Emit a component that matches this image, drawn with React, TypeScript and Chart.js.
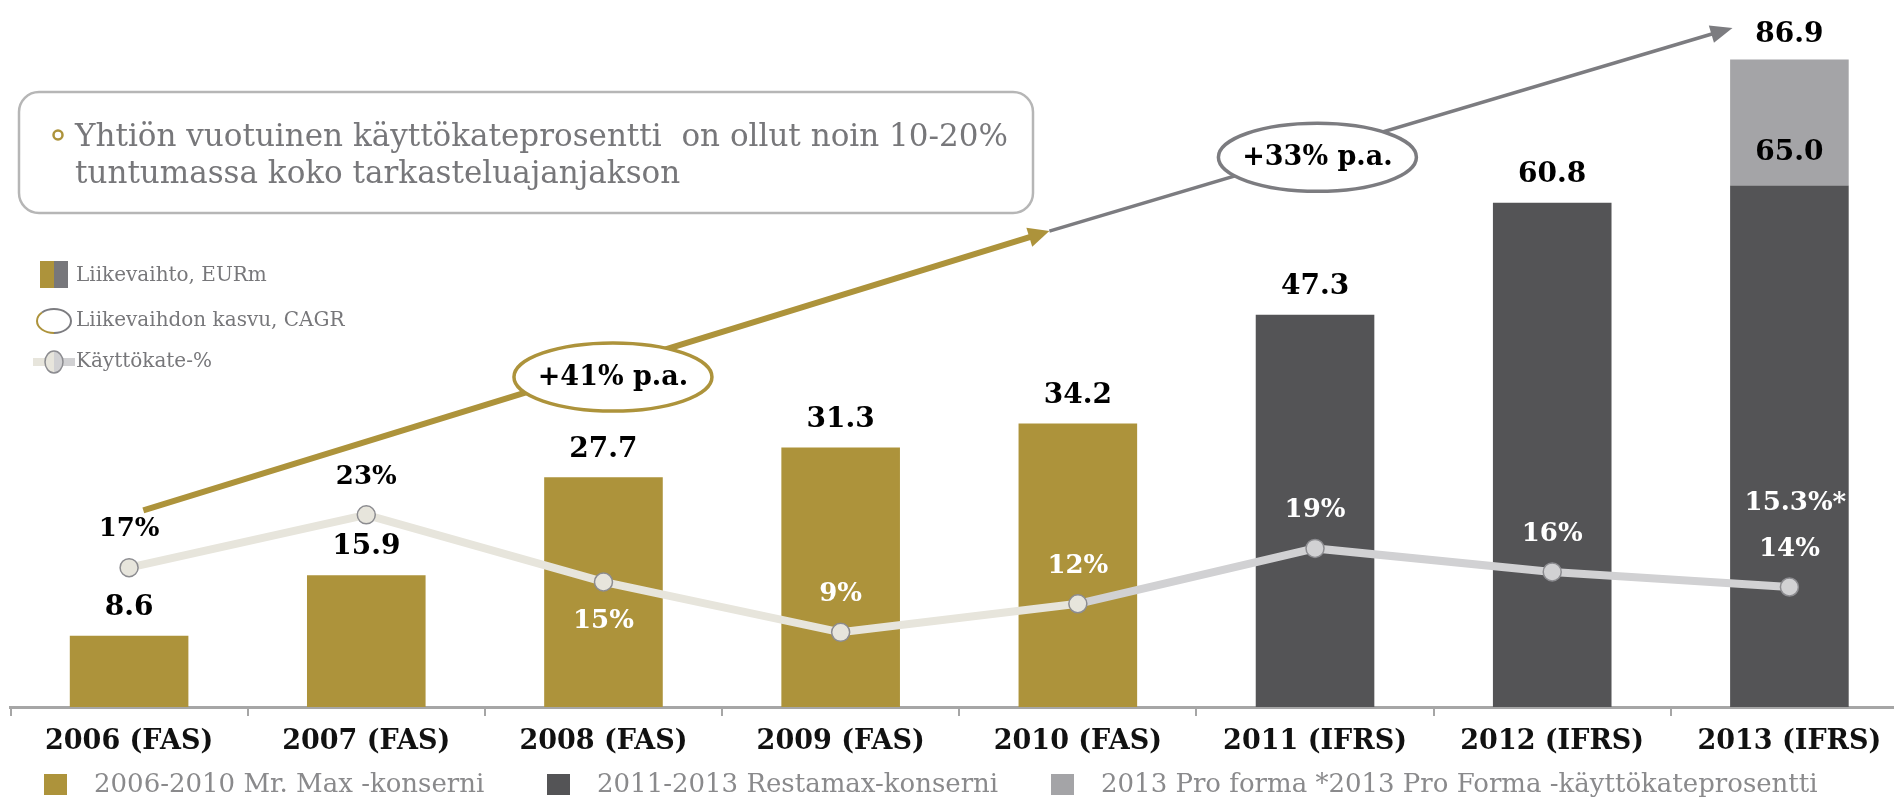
import React, { useEffect, useRef } from 'react';
import { Chart, registerables } from 'chart.js';

Chart.register(...registerables);

// ---------------- data ----------------
const categories = ['2006 (FAS)', '2007 (FAS)', '2008 (FAS)', '2009 (FAS)', '2010 (FAS)', '2011 (IFRS)', '2012 (IFRS)', '2013 (IFRS)'];
// bar heights as drawn in the picture (EURm)
const mrMaxRevenue = [8.6, 15.9, 27.7, 31.3, 34.2, null, null, null];
const restamaxRevenue = [null, null, null, null, null, 47.3, 60.8, 62.9];
const proFormaAddition = [null, null, null, null, null, null, null, 15.2];
// printed value labels
const revenueLabels = ['8.6', '15.9', '27.7', '31.3', '34.2', '47.3', '60.8', '65.0'];
const proFormaTotalLabels = [null, null, null, null, null, null, null, '86.9'];
// EBITDA margin (%), as drawn
const ebitdaMargin = [16.6, 22.9, 14.9, 8.9, 12.3, 18.9, 16.1, 14.3];
const ebitdaLabels = ['17%', '23%', '15%', '9%', '12%', '19%', '16%', '14%'];
const proFormaMarginLabels = [null, null, null, null, null, null, null, '15.3%*'];
// CAGR annotations
const cagrLabels = ['+41% p.a.', '+33% p.a.'];

const legendBottomLabels = ['2006-2010 Mr. Max -konserni', '2011-2013 Restamax-konserni', '2013 Pro forma *2013 Pro Forma -käyttökateprosentti'];
const legendLeftLabels = ['Liikevaihto, EURm', 'Liikevaihdon kasvu, CAGR', 'Käyttökate-%'];
const noteLines = ['Yhtiön vuotuinen käyttökateprosentti  on ollut noin 10-20%', 'tuntumassa koko tarkasteluajanjakson'];

// ---------------- styles ----------------
const GOLD = '#ad933b';
const DARK = '#545456';
const LIGHT = '#a4a4a7';
const BEIGE = '#e7e5dc';
const LINEGRAY = '#d1d1d3';
const TEXTGRAY = '#77777a';
const SERIF = '"DejaVu Serif", serif';

// annotation anchors in data coordinates (category index, EURm)
const arrowGold = { from: { x: 0.06, y: 23.7 }, to: { x: 3.88, y: 57.4 } };
const arrowGray = { from: { x: 3.88, y: 57.4 }, to: { x: 6.76, y: 81.9 } };
const bubbles = [
  { x: 2.04, y: 39.8, color: GOLD },
  { x: 5.01, y: 66.3, color: '#7c7c80' },
];
const marginLabelBelow = [false, false, true, false, false, false, false, false];
const marginLabelDark = [true, true, false, false, false, false, false, false];

function arrow(ctx: CanvasRenderingContext2D, x0: number, y0: number, x1: number, y1: number, color: string, width: number, len: number, half: number) {
  const a = Math.atan2(y1 - y0, x1 - x0);
  ctx.save();
  ctx.strokeStyle = color;
  ctx.lineWidth = width;
  ctx.beginPath();
  ctx.moveTo(x0, y0);
  ctx.lineTo(x1 - len * 0.7 * Math.cos(a), y1 - len * 0.7 * Math.sin(a));
  ctx.stroke();
  ctx.fillStyle = color;
  ctx.beginPath();
  ctx.moveTo(x1, y1);
  ctx.lineTo(x1 - len * Math.cos(a) + half * Math.sin(a), y1 - len * Math.sin(a) - half * Math.cos(a));
  ctx.lineTo(x1 - len * Math.cos(a) - half * Math.sin(a), y1 - len * Math.sin(a) + half * Math.cos(a));
  ctx.closePath();
  ctx.fill();
  ctx.restore();
}

function roundRect(ctx: CanvasRenderingContext2D, x: number, y: number, w: number, h: number, r: number) {
  ctx.beginPath();
  ctx.moveTo(x + r, y);
  ctx.lineTo(x + w - r, y);
  ctx.arcTo(x + w, y, x + w, y + r, r);
  ctx.lineTo(x + w, y + h - r);
  ctx.arcTo(x + w, y + h, x + w - r, y + h, r);
  ctx.lineTo(x + r, y + h);
  ctx.arcTo(x, y + h, x, y + h - r, r);
  ctx.lineTo(x, y + r);
  ctx.arcTo(x, y, x + r, y, r);
  ctx.closePath();
}

const decorPlugin = {
  id: 'decor',
  beforeDraw(chart: any) {
    const ctx: CanvasRenderingContext2D = chart.ctx;
    ctx.save();
    // note box
    roundRect(ctx, 19, 92, 1014, 121, 20);
    ctx.strokeStyle = '#b6b6b6';
    ctx.lineWidth = 2.5;
    ctx.stroke();
    ctx.beginPath();
    ctx.arc(58, 135, 4.5, 0, Math.PI * 2);
    ctx.strokeStyle = GOLD;
    ctx.lineWidth = 2.5;
    ctx.stroke();
    ctx.fillStyle = TEXTGRAY;
    ctx.font = `31px ${SERIF}`;
    ctx.textAlign = 'left';
    ctx.textBaseline = 'alphabetic';
    ctx.fillText(noteLines[0], 75, 146);
    ctx.fillText(noteLines[1], 75, 183);

    // left legend
    ctx.fillStyle = GOLD;
    ctx.fillRect(40, 261, 14, 27);
    ctx.fillStyle = '#77777b';
    ctx.fillRect(54, 261, 14, 27);
    // ellipse icon
    ctx.lineWidth = 2;
    ctx.strokeStyle = GOLD;
    ctx.beginPath();
    ctx.ellipse(54, 321, 17, 12, 0, Math.PI * 0.5, Math.PI * 1.25);
    ctx.stroke();
    ctx.strokeStyle = '#7c7c80';
    ctx.beginPath();
    ctx.ellipse(54, 321, 17, 12, 0, Math.PI * 1.25, Math.PI * 2.5);
    ctx.stroke();
    // line icon
    ctx.lineWidth = 8;
    ctx.strokeStyle = BEIGE;
    ctx.beginPath(); ctx.moveTo(33, 362); ctx.lineTo(54, 362); ctx.stroke();
    ctx.strokeStyle = LINEGRAY;
    ctx.beginPath(); ctx.moveTo(54, 362); ctx.lineTo(75, 362); ctx.stroke();
    ctx.fillStyle = BEIGE;
    ctx.beginPath(); ctx.ellipse(54, 362, 9, 11, 0, Math.PI * 0.5, Math.PI * 1.5); ctx.fill();
    ctx.fillStyle = LINEGRAY;
    ctx.beginPath(); ctx.ellipse(54, 362, 9, 11, 0, Math.PI * 1.5, Math.PI * 2.5); ctx.fill();
    ctx.strokeStyle = '#8c8c90';
    ctx.lineWidth = 1.5;
    ctx.beginPath(); ctx.ellipse(54, 362, 9, 11, 0, 0, Math.PI * 2); ctx.stroke();
    ctx.fillStyle = TEXTGRAY;
    ctx.font = `20px ${SERIF}`;
    ctx.textBaseline = 'middle';
    ctx.fillText(legendLeftLabels[0], 76, 276);
    ctx.fillText(legendLeftLabels[1], 76, 321);
    ctx.fillText(legendLeftLabels[2], 76, 362);

    // bottom legend
    const colors = [GOLD, DARK, LIGHT];
    const boxX = [44, 547, 1051];
    ctx.font = `26px ${SERIF}`;
    for (let i = 0; i < 3; i++) {
      ctx.fillStyle = colors[i];
      ctx.fillRect(boxX[i], 774, 23, 21);
      ctx.fillStyle = '#8a8a8c';
      ctx.fillText(legendBottomLabels[i], boxX[i] + 50, 785);
    }
    ctx.restore();
  },
  afterDatasetsDraw(chart: any) {
    const ctx: CanvasRenderingContext2D = chart.ctx;
    const xs = chart.scales.x;
    const ys = chart.scales.y;
    const y2 = chart.scales.y2;
    const px = (p: { x: number; y: number }) => [xs.getPixelForValue(p.x), ys.getPixelForValue(p.y)];
    ctx.save();
    // CAGR arrows
    const [g0x, g0y] = px(arrowGold.from);
    const [g1x, g1y] = px(arrowGold.to);
    const [r1x, r1y] = px(arrowGray.to);
    arrow(ctx, g1x, g1y, r1x, r1y, '#7c7c80', 3.5, 22, 9);
    arrow(ctx, g0x, g0y, g1x, g1y, GOLD, 6, 21, 10);
    // bubbles
    bubbles.forEach((b, i) => {
      const [bx, by] = px(b);
      ctx.beginPath();
      ctx.ellipse(bx, by, 99, 34, 0, 0, Math.PI * 2);
      ctx.fillStyle = '#fff';
      ctx.fill();
      ctx.lineWidth = 3.5;
      ctx.strokeStyle = b.color;
      ctx.stroke();
      ctx.fillStyle = '#000';
      ctx.font = `bold 27px ${SERIF}`;
      ctx.textAlign = 'center';
      ctx.textBaseline = 'middle';
      ctx.fillText(cagrLabels[i], bx, by + 1);
    });

    // bar value labels
    ctx.font = `bold 28px ${SERIF}`;
    ctx.textAlign = 'center';
    ctx.textBaseline = 'middle';
    ctx.fillStyle = '#000';
    categories.forEach((_, i) => {
      const base = (mrMaxRevenue[i] ?? 0) + (restamaxRevenue[i] ?? 0);
      const x = xs.getPixelForValue(i);
      const hasProForma = proFormaTotalLabels[i] != null;
      ctx.fillText(revenueLabels[i], x, ys.getPixelForValue(base) - (hasProForma ? 33 : 28));
      if (hasProForma) {
        ctx.fillText(proFormaTotalLabels[i] as string, x, ys.getPixelForValue(base + (proFormaAddition[i] ?? 0)) - 25);
      }
    });

    // margin labels
    ctx.font = `bold 26px ${SERIF}`;
    ebitdaMargin.forEach((v, i) => {
      const x = xs.getPixelForValue(i);
      const y = y2.getPixelForValue(v);
      ctx.fillStyle = marginLabelDark[i] ? '#000' : '#fff';
      ctx.fillText(ebitdaLabels[i], x, marginLabelBelow[i] ? y + 39 : y - 38);
      if (proFormaMarginLabels[i]) {
        ctx.fillText(proFormaMarginLabels[i] as string, x + 6, y - 84);
      }
    });
    ctx.restore();
  },
};

export default function App() {
  const ref = useRef<HTMLCanvasElement>(null);
  useEffect(() => {
    const chart = new Chart(ref.current as HTMLCanvasElement, {
      type: 'bar',
      data: {
        labels: categories,
        datasets: [
          {
            type: 'line',
            label: legendLeftLabels[2],
            data: ebitdaMargin,
            yAxisID: 'y2',
            order: 0,
            borderWidth: 8,
            borderColor: BEIGE,
            segment: { borderColor: (c: any) => (c.p0DataIndex >= 4 ? LINEGRAY : BEIGE) },
            pointRadius: 9,
            pointBorderWidth: 1.5,
            pointBorderColor: '#8c8c90',
            pointBackgroundColor: ebitdaMargin.map((_, i) => (i <= 4 ? BEIGE : LINEGRAY)),
            tension: 0,
          } as any,
          { label: legendBottomLabels[0], data: mrMaxRevenue, backgroundColor: GOLD, order: 1, stack: 's' },
          { label: legendBottomLabels[1], data: restamaxRevenue, backgroundColor: DARK, order: 1, stack: 's' },
          { label: legendBottomLabels[2], data: proFormaAddition, backgroundColor: LIGHT, order: 1, stack: 's' },
        ],
      },
      options: {
        responsive: false,
        devicePixelRatio: 1,
        animation: false,
        layout: { padding: { left: 10, right: 12, top: 0, bottom: 0 } },
        datasets: { bar: { categoryPercentage: 1, barPercentage: 0.5 } },
        plugins: { legend: { display: false }, tooltip: { enabled: false } },
        scales: {
          x: {
            stacked: true,
            offset: true,
            grid: { display: true, drawOnChartArea: false, offset: true, tickLength: 9, color: '#a6a6a6', lineWidth: 2 },
            border: { display: true, color: '#a6a6a6', width: 3 },
            ticks: { color: '#111', font: { family: SERIF, size: 27, weight: 'bold' }, padding: 10, maxRotation: 0, autoSkip: false },
            afterFit: (s: any) => { s.height = 93; },
          },
          y: { stacked: true, display: false, min: 0, max: 84.0 },
          y2: { display: false, min: 0, max: 83.0, stacked: false },
        },
      } as any,
      plugins: [decorPlugin],
    });
    return () => chart.destroy();
  }, []);
  return (
    <div style={{ position: 'fixed', left: 0, top: 0, width: 1894, height: 800, overflow: 'hidden', background: '#fff' }}>
      <canvas ref={ref} width={1920} height={800} style={{ display: 'block', width: 1920, height: 800 }} />
    </div>
  );
}
